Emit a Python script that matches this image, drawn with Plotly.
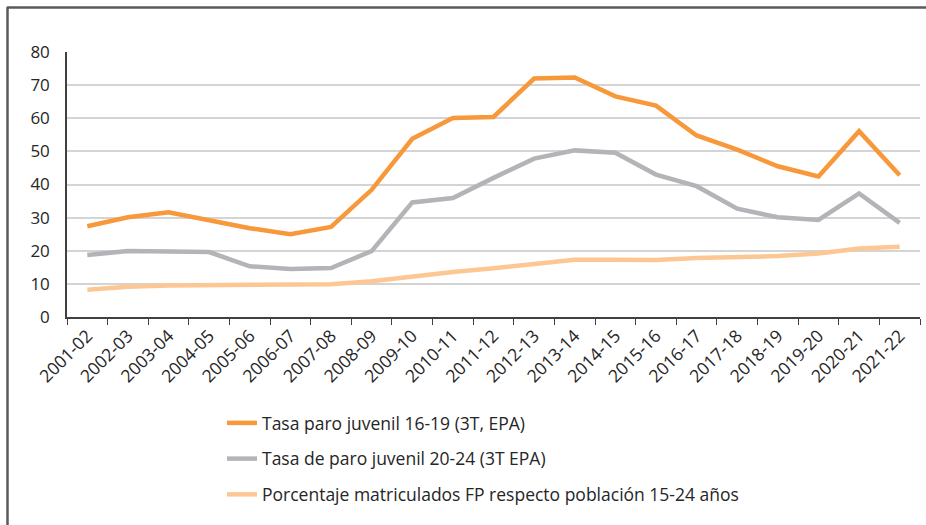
import plotly.graph_objects as go

categories = ["2001-02", "2002-03", "2003-04", "2004-05", "2005-06", "2006-07", "2007-08",
              "2008-09", "2009-10", "2010-11", "2011-12", "2012-13", "2013-14", "2014-15",
              "2015-16", "2016-17", "2017-18", "2018-19", "2019-20", "2020-21", "2021-22"]

paro_16_19 = [27.4, 30.1, 31.6, 29.3, 26.8, 25.0, 27.2, 38.4, 53.8, 60.1, 60.4, 72.0, 72.3,
              66.6, 63.8, 54.8, 50.5, 45.5, 42.4, 56.1, 42.8]
paro_20_24 = [18.7, 19.9, 19.8, 19.6, 15.3, 14.5, 14.8, 19.9, 34.6, 35.9, 42.0, 47.8, 50.3,
              49.6, 43.0, 39.5, 32.7, 30.1, 29.3, 37.3, 28.4]
matric_fp = [8.2, 9.1, 9.5, 9.6, 9.5, 9.7, 9.9, 10.8, 12.3, 13.6, 14.7, 16.1, 17.3,
             17.3, 17.2, 17.8, 18.2, 18.4, 19.2, 20.7, 21.2]

names = ["Tasa paro juvenil 16-19 (3T, EPA)",
         "Tasa de paro juvenil 20-24 (3T EPA)",
         "Porcentaje matriculados FP respecto población 15-24 años"]
colors = ["#F7983A", "#B3B3B8", "#FDC794"]
y_ticks = [0, 10, 20, 30, 40, 50, 60, 70, 80]

fig = go.Figure()
for i, (nm, vals, col) in enumerate(zip(names, [paro_16_19, paro_20_24, matric_fp], colors)):
    fig.add_trace(go.Scatter(x=categories, y=vals, name=nm, mode="lines",
                             line=dict(color=col, width=4.5), legendgroup=str(i)))

W, H = 926, 525
ml, mr, mt, mb = 67, 6, 52, 208
pw, ph = W - ml - mr, H - mt - mb

def px_x(p):
    return (p - ml) / pw

def px_y(p):
    return (H - mb - p) / ph

border = dict(color="#5A5A5A", width=2.5)

fig.update_layout(
    width=W, height=H,
    margin=dict(l=ml, r=mr, t=mt, b=mb),
    plot_bgcolor="white", paper_bgcolor="white",
    font=dict(family="Open Sans, Liberation Sans, Arial, sans-serif", color="#262626", size=15),
    showlegend=True,
    legend=dict(x=px_x(222), y=px_y(405), xanchor="left", yanchor="top",
                orientation="v", traceorder="grouped", tracegroupgap=10,
                font=dict(size=17.5, color="#262626"), bgcolor="rgba(0,0,0,0)"),
    xaxis=dict(type="category", tickson="boundaries", ticks="outside", ticklen=6,
               tickcolor="#404040", showline=True, linecolor="#404040", linewidth=1.5,
               showgrid=False, tickangle=-45, tickfont=dict(size=17.5),
               range=[-0.5, len(categories) - 0.5]),
    yaxis=dict(range=[0, 80], tickvals=y_ticks, showgrid=True, gridcolor="#D4D4D4",
               gridwidth=1.5, showline=True, linecolor="#404040", linewidth=1.5,
               ticks="", tickfont=dict(size=17), zeroline=False, ticklabelstandoff=12),
    shapes=[
        dict(type="line", xref="paper", yref="paper",
             x0=px_x(7), x1=px_x(960), y0=px_y(7.5), y1=px_y(7.5), line=border, layer="below"),
        dict(type="line", xref="paper", yref="paper",
             x0=px_x(7.5), x1=px_x(7.5), y0=px_y(7), y1=px_y(560), line=border, layer="below"),
    ],
)

fig.write_html("out.html", config={"displayModeBar": False},
               post_script=("document.body.style.margin='0';document.body.style.padding='0';"
                            "document.documentElement.style.overflow='hidden';"
                            "document.body.style.overflow='hidden';"))
